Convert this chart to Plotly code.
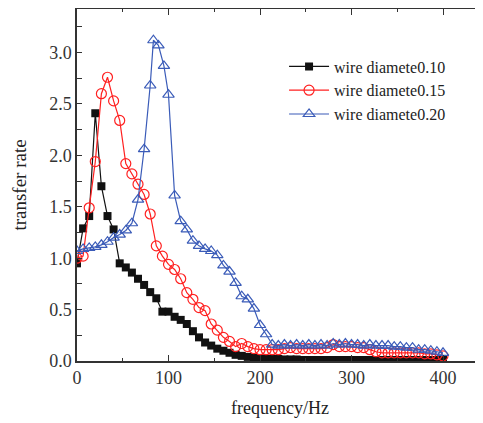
import plotly.graph_objects as go

freq = [0, 6.67, 13.33, 20, 26.67, 33.33, 40, 46.67, 53.33, 60,
        66.67, 73.33, 80, 86.67, 93.33, 100, 106.67, 113.33, 120, 126.67,
        133.33, 140, 146.67, 153.33, 160, 166.67, 173.33, 180, 186.67, 193.33,
        200, 206.67, 213.33, 220, 226.67, 233.33, 240, 246.67, 253.33, 260,
        266.67, 273.33, 280, 286.67, 293.33, 300, 306.67, 313.33, 320, 326.67,
        333.33, 340, 346.67, 353.33, 360, 366.67, 373.33, 380, 386.67, 393.33, 400]

wire_010 = [0.95, 1.29, 1.41, 2.41, 1.70, 1.41, 1.28, 0.95, 0.91, 0.86,
            0.80, 0.74, 0.67, 0.61, 0.48, 0.48, 0.43, 0.40, 0.36, 0.29,
            0.23, 0.18, 0.15, 0.12, 0.10, 0.08, 0.06, 0.05, 0.04, 0.03,
            0.025, 0.02, 0.02, 0.02, 0.015, 0.015, 0.015, 0.01, 0.01, 0.01,
            0.01, 0.01, 0.01, 0.01, 0.01, 0.01, 0.01, 0.01, 0.01, 0.01,
            0.01, 0.01, 0.01, 0.01, 0.01, 0.01, 0.01, 0.01, 0.01, 0.01, 0.01]

wire_015 = [1.00, 1.02, 1.49, 1.94, 2.60, 2.76, 2.53, 2.34, 1.92, 1.82,
            1.72, 1.62, 1.43, 1.12, 1.02, 0.94, 0.89, 0.80, 0.665, 0.60,
            0.52, 0.49, 0.36, 0.30, 0.23, 0.19, 0.14, 0.17, 0.14, 0.12,
            0.11, 0.11, 0.11, 0.11, 0.12, 0.13, 0.12, 0.12, 0.12, 0.12,
            0.12, 0.13, 0.16, 0.14, 0.14, 0.14, 0.13, 0.13, 0.11, 0.09,
            0.08, 0.08, 0.08, 0.08, 0.08, 0.08, 0.08, 0.07, 0.07, 0.06, 0.05]

freq_020 = [0, 6.67, 13.33, 20, 26.67, 33.33, 40, 46.67, 53.33, 60,
            66.67, 73.33, 80, 83.5, 89, 95, 100, 106.67, 113.33, 120, 126.67,
            133.33, 140, 146.67, 153.33, 160, 166.67, 173.33, 180, 186.67, 193.33,
            200, 206.67, 213.33, 220, 226.67, 233.33, 240, 246.67, 253.33, 260,
            266.67, 273.33, 280, 286.67, 293.33, 300, 306.67, 313.33, 320, 326.67,
            333.33, 340, 346.67, 353.33, 360, 366.67, 373.33, 380, 386.67, 393.33, 400]

wire_020 = [1.07, 1.09, 1.10, 1.11, 1.13, 1.16, 1.20, 1.23, 1.27, 1.34,
            1.57, 2.06, 2.68, 3.12, 3.07, 2.87, 2.59, 1.61, 1.36, 1.28, 1.17,
            1.12, 1.09, 1.07, 1.03, 0.93, 0.87, 0.76, 0.63, 0.60, 0.51,
            0.35, 0.26, 0.16, 0.15, 0.16, 0.15, 0.16, 0.15, 0.16, 0.15,
            0.16, 0.15, 0.17, 0.16, 0.17, 0.16, 0.16, 0.15, 0.16, 0.15,
            0.15, 0.15, 0.14, 0.14, 0.13, 0.13, 0.11, 0.11, 0.10, 0.09, 0.08]

names = ["wire diamete0.10", "wire diamete0.15", "wire diamete0.20"]
x_tick_vals = [0, 100, 200, 300, 400]
y_tick_vals = [0.0, 0.5, 1.0, 1.5, 2.0, 2.5, 3.0]
y_tick_text = ["0.0", "0.5", "1.0", "1.5", "2.0", "2.5", "3.0"]

FONT = "Liberation Serif"

fig = go.Figure()
fig.add_trace(go.Scatter(
    x=freq, y=wire_010, name=names[0], mode="lines+markers",
    line=dict(color="#111111", width=1.2),
    marker=dict(symbol="square", size=8, color="#111111",
                line=dict(color="#111111", width=0))))
fig.add_trace(go.Scatter(
    x=freq, y=wire_015, name=names[1], mode="lines+markers",
    line=dict(color="#FF2020", width=1.2),
    marker=dict(symbol="circle-open", size=10, color="#FF2020",
                line=dict(color="#FF2020", width=1.2))))
fig.add_trace(go.Scatter(
    x=freq_020, y=wire_020, name=names[2], mode="lines+markers",
    line=dict(color="#3A5BB8", width=1.2),
    marker=dict(symbol="triangle-up-open", size=10, color="#3A5BB8",
                line=dict(color="#3A5BB8", width=1.2))))

# page body has an 8px margin, so the figure is sized to fit inside the window
fig.update_layout(
    width=475, height=415,
    margin=dict(l=69, r=0, t=1, b=62),
    paper_bgcolor="white", plot_bgcolor="white",
    font=dict(family=FONT, color="#222222"),
    showlegend=True,
    legend=dict(x=0.51, y=0.885, xanchor="left", yanchor="top",
                bgcolor="rgba(0,0,0,0)", font=dict(family=FONT, size=16, color="#222222"),
                tracegroupgap=3, itemwidth=40),
    xaxis=dict(range=[0, 443.7], tickvals=x_tick_vals, ticks="inside", ticklen=6,
               tickwidth=1.2, tickcolor="#333333",
               showline=True, linecolor="#333333", linewidth=1.5, mirror="ticks",
               showgrid=False, zeroline=False,
               tickfont=dict(family=FONT, size=18, color="#333333"),
               minor=dict(dtick=50, tick0=0, ticks="inside", ticklen=3, tickcolor="#333333", showgrid=False),
               title=dict(text="frequency/Hz", font=dict(family=FONT, size=18, color="#222222"), standoff=14)),
    yaxis=dict(range=[0, 3.424], tickvals=y_tick_vals, ticktext=y_tick_text,
               ticks="inside", ticklen=5, tickwidth=1.2, tickcolor="#333333",
               showline=True, linecolor="#333333", linewidth=1.5, mirror=False,
               showgrid=False, zeroline=False,
               tickfont=dict(family=FONT, size=18, color="#333333"),
               minor=dict(dtick=0.25, tick0=0, ticks="inside", ticklen=5, tickcolor="#333333", showgrid=False),
               title=dict(text="transfer rate", font=dict(family=FONT, size=19, color="#222222"), standoff=18)),
)

fig.write_html("out.html")
